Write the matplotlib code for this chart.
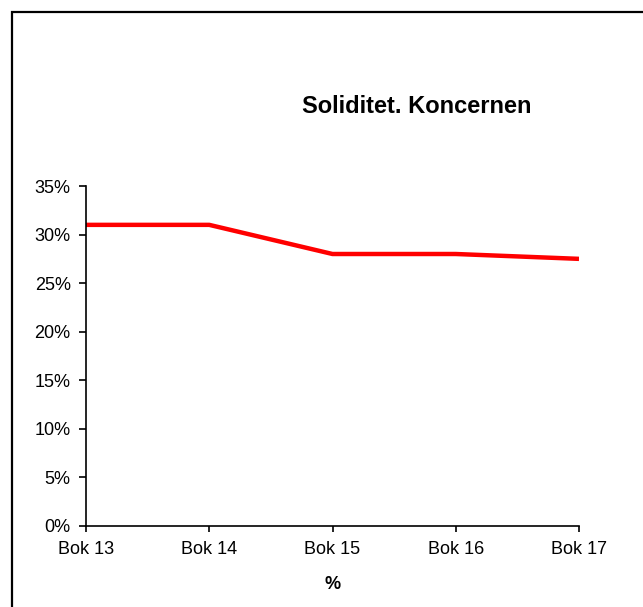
import matplotlib.pyplot as plt
from matplotlib.patches import Rectangle
from matplotlib.ticker import PercentFormatter

plt.rcParams['font.family'] = ['Liberation Sans', 'DejaVu Sans']

# data
years = ['Bok 13', 'Bok 14', 'Bok 15', 'Bok 16', 'Bok 17']
soliditet = [31.0, 31.0, 28.0, 28.0, 27.5]

W, H = 643, 607
fig = plt.figure(figsize=(W / 100, H / 100), dpi=100)

# outer frame, cut off at right and bottom like the original
fig.patches.append(Rectangle((12 / W, -0.05), 1.1, 1 - 12 / H + 0.05,
                             transform=fig.transFigure, fill=False,
                             edgecolor='black', linewidth=1.6))

ax = fig.add_axes([86 / W, (H - 526) / H, (579 - 86) / W, (526 - 186) / H])
x = range(len(years))
ax.plot(x, soliditet, color='#ff0000', linewidth=3.2, solid_capstyle='butt')

ax.set_xlim(0, len(years) - 1)
ax.set_ylim(0, 35)
ax.set_yticks(range(0, 36, 5))
ax.yaxis.set_major_formatter(PercentFormatter(decimals=0))
ax.set_xticks(list(x))
ax.set_xticklabels(years)

for s in ['top', 'right']:
    ax.spines[s].set_visible(False)
for s in ['left', 'bottom']:
    ax.spines[s].set_linewidth(1.2)
ax.tick_params(axis='both', direction='out', width=1.2,
               labelsize=13, colors='black')
ax.tick_params(axis='y', length=5, pad=6)
ax.tick_params(axis='x', length=4, pad=7)

ax.set_xlabel('%', fontsize=13, fontweight='bold', labelpad=13)
fig.text(416.5 / W, 1 - 113 / H, 'Soliditet. Koncernen', fontsize=17,
         fontweight='bold', ha='center', va='baseline')

fig.savefig('out.png', dpi=100)
